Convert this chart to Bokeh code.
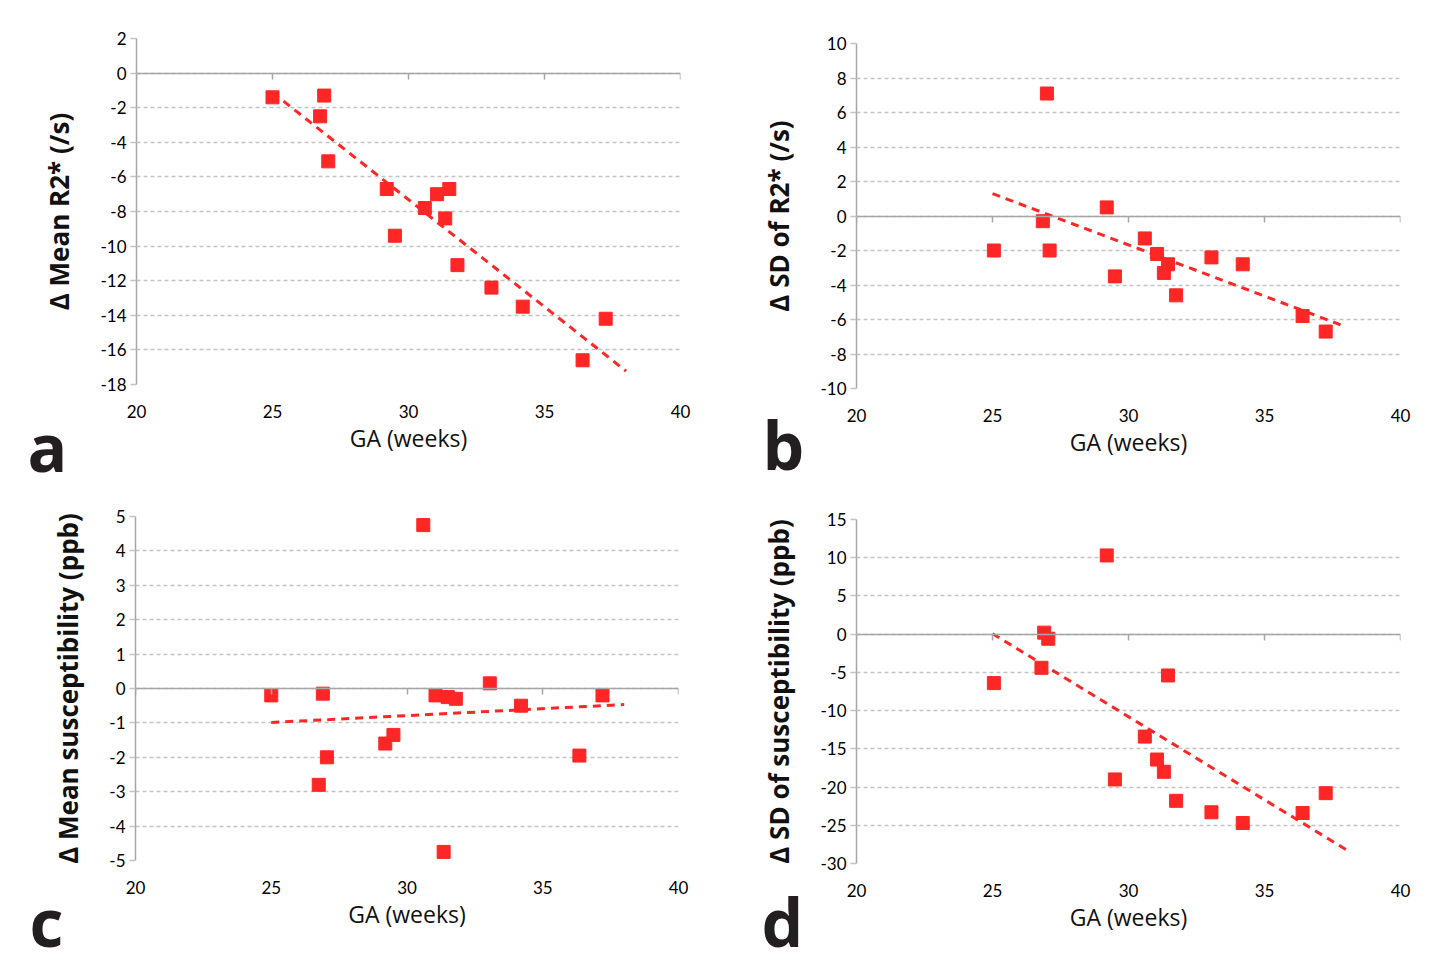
import numpy as np
from bokeh.plotting import figure
from bokeh.models import Range1d, FixedTicker, LinearAxis, ColumnDataSource, GridBox
from bokeh.layouts import row
from bokeh.core.properties import value
from bokeh.embed import file_html
from bokeh.resources import INLINE

# ---------------- data ----------------
ga_weeks = [25.0, 26.9, 26.75, 27.05, 29.2, 29.5, 30.6, 31.05, 31.5, 31.35, 31.8, 33.05, 34.2, 36.4, 37.25]
mean_r2 = [-1.4, -1.3, -2.5, -5.1, -6.7, -9.4, -7.8, -7.0, -6.7, -8.4, -11.1, -12.4, -13.5, -16.6, -14.2]

ga_b = [25.05, 27.0, 26.85, 27.1, 29.2, 29.5, 30.6, 31.05, 31.45, 31.3, 31.75, 33.05, 34.2, 36.4, 37.25]
sd_r2 = [-2.0, 7.1, -0.3, -2.0, 0.5, -3.5, -1.3, -2.2, -2.8, -3.3, -4.6, -2.4, -2.8, -5.8, -6.7]

ga_c = [25.0, 26.9, 26.75, 27.05, 29.2, 29.5, 30.6, 31.05, 31.5, 31.8, 31.35, 33.05, 34.2, 36.35, 37.2]
mean_sus = [-0.2, -0.15, -2.8, -2.0, -1.6, -1.35, 4.75, -0.2, -0.25, -0.3, -4.75, 0.15, -0.5, -1.95, -0.2]

ga_d = [25.05, 26.9, 27.05, 26.8, 29.2, 29.5, 30.6, 31.05, 31.3, 31.45, 31.75, 33.05, 34.2, 36.4, 37.25]
sd_sus = [-6.4, 0.2, -0.6, -4.4, 10.3, -19.0, -13.4, -16.4, -18.0, -5.4, -21.8, -23.3, -24.7, -23.4, -20.8]

trend_span = [25, 38]          # x extent of the fitted trend lines
x_ticks = [20, 25, 30, 35, 40]
y_ticks_a = [-18, -16, -14, -12, -10, -8, -6, -4, -2, 0, 2]
y_ticks_b = [-10, -8, -6, -4, -2, 0, 2, 4, 6, 8, 10]
y_ticks_c = [-5, -4, -3, -2, -1, 0, 1, 2, 3, 4, 5]
y_ticks_d = [-30, -25, -20, -15, -10, -5, 0, 5, 10, 15]

y_titles = ["Δ Mean R2* (/s)", "Δ SD of R2* (/s)", "Δ Mean susceptibility (ppb)", "Δ SD of susceptibility (ppb)"]
x_title = "GA (weeks)"
letters = ["a", "b", "c", "d"]

RED = "#ff2626"
GRID = "#c4c4c4"
AXIS = "#a6a6a6"
TICK_FONT = "Lato"
TITLE_FONT = "Open Sans"

FIG_W = 714
ROW1_H = 480
ROW2_H = 492


def make_panel(xs, ys, yticks, ytitle, fig_h, bl, bt, fw, fh):
    p = figure(width=FIG_W, height=fig_h, output_backend="svg", toolbar_location=None,
               x_range=Range1d(20, 40), y_range=Range1d(yticks[0], yticks[-1]),
               min_border_left=bl, min_border_right=FIG_W - bl - fw,
               min_border_top=bt, min_border_bottom=fig_h - bt - fh)
    p.outline_line_color = None
    p.background_fill_color = "white"
    p.border_fill_color = "white"

    p.xgrid.grid_line_color = None
    p.ygrid.ticker = FixedTicker(ticks=yticks)
    p.ygrid.grid_line_color = GRID
    p.ygrid.grid_line_dash = "4 3"
    p.ygrid.grid_line_width = 1.5

    ya = p.yaxis[0]
    ya.ticker = FixedTicker(ticks=yticks)
    ya.major_label_overrides = {t: str(t) for t in yticks}
    ya.axis_line_color = AXIS
    ya.axis_line_width = 1.5
    ya.major_tick_line_color = GRID
    ya.major_tick_line_width = 1.5
    ya.major_tick_out = 6
    ya.major_tick_in = 0
    ya.minor_tick_line_color = None
    ya.major_label_text_font = TICK_FONT
    ya.major_label_text_font_size = "17px"
    ya.major_label_text_color = "black"
    ya.major_label_standoff = 4
    ya.axis_label = ytitle
    ya.axis_label_text_font = TITLE_FONT
    ya.axis_label_text_font_size = "26px"
    ya.axis_label_text_font_style = "bold"
    ya.axis_label_text_color = "#111111"
    ya.axis_label_standoff = 20

    xa = p.xaxis[0]
    xa.ticker = FixedTicker(ticks=x_ticks)
    xa.major_label_overrides = {t: str(t) for t in x_ticks}
    xa.axis_line_color = None
    xa.major_tick_line_color = None
    xa.minor_tick_line_color = None
    xa.major_label_text_font = TICK_FONT
    xa.major_label_text_font_size = "17px"
    xa.major_label_text_color = "black"
    xa.major_label_standoff = 14
    xa.axis_label = x_title
    xa.axis_label_text_font = TITLE_FONT
    xa.axis_label_text_font_size = "23px"
    xa.axis_label_text_font_style = "normal"
    xa.axis_label_text_color = "#111111"
    xa.axis_label_standoff = 1

    zero_axis = LinearAxis(fixed_location=0, ticker=FixedTicker(ticks=x_ticks))
    zero_axis.axis_line_color = AXIS
    zero_axis.axis_line_width = 1.5
    zero_axis.major_tick_line_color = AXIS
    zero_axis.major_tick_line_width = 1.5
    zero_axis.major_tick_out = 6
    zero_axis.major_tick_in = 0
    zero_axis.minor_tick_line_color = None
    zero_axis.major_label_text_color = None
    zero_axis.major_label_text_font_size = "1px"
    p.add_layout(zero_axis, "below")

    k, b0 = np.polyfit(np.array(xs), np.array(ys), 1)
    tx = np.array(trend_span, dtype=float)
    p.line(tx, k * tx + b0, line_color=RED, line_width=3, line_dash="8 6")

    src = ColumnDataSource(dict(x=xs, y=ys))
    p.scatter("x", "y", source=src, marker="square", size=13,
              fill_color=RED, line_color=RED)
    return p


pa = make_panel(ga_weeks, mean_r2, y_ticks_a, y_titles[0], ROW1_H, 136, 38, 544, 346)
pb = make_panel(ga_b, sd_r2, y_ticks_b, y_titles[1], ROW1_H, 142, 43, 544, 345)
pc = make_panel(ga_c, mean_sus, y_ticks_c, y_titles[2], ROW2_H, 135, 36, 543, 344)
pd_ = make_panel(ga_d, sd_sus, y_ticks_d, y_titles[3], ROW2_H, 142, 39, 544, 344)

# transparent overlay carrying the panel letters (pixel space of the whole grid)
OV_H = ROW1_H + ROW2_H
ov = figure(width=2 * FIG_W, height=OV_H, output_backend="svg", toolbar_location=None,
            x_range=Range1d(0, 2 * FIG_W), y_range=Range1d(OV_H, 0),
            x_axis_type=None, y_axis_type=None,
            min_border_left=0, min_border_right=0, min_border_top=0, min_border_bottom=0)
ov.grid.grid_line_color = None
ov.outline_line_color = None
ov.background_fill_color = None
ov.border_fill_color = None
letter_src = ColumnDataSource(dict(x=[47, 783, 46, 782], y=[445, 443, 920, 920], t=letters))
ov.text("x", "y", text="t", source=letter_src, text_font=value(TITLE_FONT),
        text_font_style="bold", text_font_size=value("66px"), text_color="#231f20",
        text_align="center", text_baseline="alphabetic")

layout = GridBox(children=[(row(pa), 0, 0), (row(pb), 0, 1), (row(pc), 1, 0), (row(pd_), 1, 1),
                           (row(ov), 0, 0, 2, 2)])
open("out.html", "w").write(file_html(layout, INLINE))
